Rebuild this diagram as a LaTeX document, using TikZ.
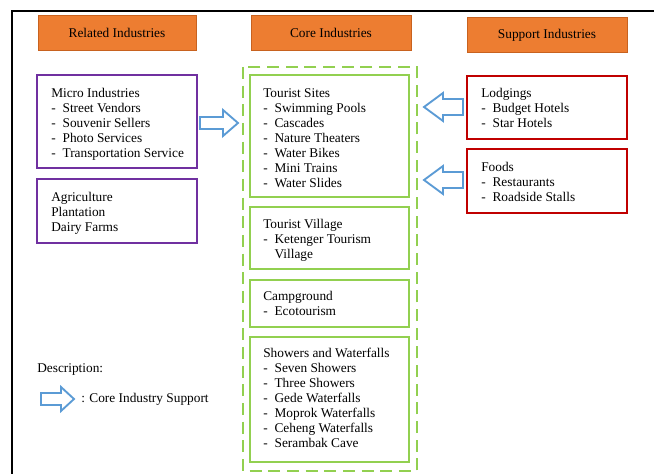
\documentclass[tikz,border=0pt]{standalone}
\usepackage{fontspec}
\setmainfont{Liberation Serif}
\definecolor{hdr}{HTML}{ED7D31}
\definecolor{hdrline}{HTML}{C8621F}
\definecolor{purp}{HTML}{7030A0}
\definecolor{grn}{HTML}{92D050}
\definecolor{redb}{HTML}{C00000}
\definecolor{arrb}{HTML}{5B9BD5}
\newcommand{\itm}[1]{\makebox[8.5pt][l]{-}#1}
\begin{document}
\begin{tikzpicture}[x=0.75pt,y=-0.75pt,
  hdrbox/.style={fill=hdr,draw=hdrline,line width=0.6pt},
  hdrtxt/.style={font=\fontsize{10}{11.25}\selectfont,inner sep=0pt},
  purpbox/.style={draw=purp,line width=1.5pt},
  grnbox/.style={draw=grn,line width=1.5pt},
  redbox/.style={draw=redb,line width=1.5pt},
  dashbox/.style={draw=grn,line width=1.5pt,dash pattern=on 9pt off 5pt},
  blockarrow/.style={draw=arrb,fill=white,line width=1.4pt,line join=miter},
  txt/.style={anchor=north west,inner sep=0pt,align=left,font=\fontsize{10}{11.25}\selectfont}]
\useasboundingbox (0,0) rectangle (654,474);
% frame
\draw[line width=0.9pt] (654,11) -- (12,11) -- (12,474);
% headers
\draw[hdrbox] (38,15) rectangle (196,50);
\node[hdrtxt] (hrel) at (117,33) {Related Industries};
\draw[hdrbox] (251,15) rectangle (411,50);
\node[hdrtxt] (hcore) at (331,33) {Core Industries};
\draw[hdrbox] (467,17) rectangle (627,52);
\node[hdrtxt] (hsup) at (547,35) {Support Industries};
% related
\draw[purpbox] (37,75) rectangle (197,168);
\node[txt] (micro) at (51,87) {\strut Micro Industries\\\itm{Street Vendors}\\\itm{Souvenir Sellers}\\\itm{Photo Services}\\\itm{Transportation Service}};
\draw[purpbox] (37,179) rectangle (197,243);
\node[txt] (agri) at (51,191) {\strut Agriculture\\Plantation\\Dairy Farms};
% core
\draw[dashbox] (243,67) rectangle (417,471);
\draw[grnbox] (250,75) rectangle (409,197);
\node[txt] (sites) at (263,87) {\strut Tourist Sites\\\itm{Swimming Pools}\\\itm{Cascades}\\\itm{Nature Theaters}\\\itm{Water Bikes}\\\itm{Mini Trains}\\\itm{Water Slides}};
\draw[grnbox] (250,207) rectangle (409,269);
\node[txt] (village) at (263,218) {\strut Tourist Village\\\itm{Ketenger Tourism}\\\hspace*{8.5pt}Village};
\draw[grnbox] (250,280) rectangle (409,327);
\node[txt] (camp) at (263,290) {\strut Campground\\\itm{Ecotourism}};
\draw[grnbox] (250,337) rectangle (409,462);
\node[txt] (showers) at (263,347) {\strut Showers and Waterfalls\\\itm{Seven Showers}\\\itm{Three Showers}\\\itm{Gede Waterfalls}\\\itm{Moprok Waterfalls}\\\itm{Ceheng Waterfalls}\\\itm{Serambak Cave}};
% support
\draw[redbox] (467,76) rectangle (627,139);
\node[txt] (lodg) at (481,87) {\strut Lodgings\\\itm{Budget Hotels}\\\itm{Star Hotels}};
\draw[redbox] (467,149) rectangle (627,213);
\node[txt] (food) at (481,161) {\strut Foods\\\itm{Restaurants}\\\itm{Roadside Stalls}};
% arrows
\draw[blockarrow] (200,117) -- (223,117) -- (223,110) -- (238,123) -- (223,136) -- (223,129) -- (200,129) -- cycle;
\draw[blockarrow] (463,99) -- (443,99) -- (443,93) -- (424,107) -- (443,121) -- (443,115) -- (463,115) -- cycle;
\draw[blockarrow] (463,172) -- (443,172) -- (443,166) -- (424,180) -- (443,194) -- (443,188) -- (463,188) -- cycle;
% legend
\node[txt] (desc) at (37,362) {\strut Description:};
\draw[blockarrow] (41,393) -- (61,393) -- (61,387) -- (74,399) -- (61,411) -- (61,405) -- (41,405) -- cycle;
\node[anchor=west,inner sep=0pt,font=\fontsize{10}{11.25}\selectfont] (legtxt) at (81,399) {: Core Industry Support};
\end{tikzpicture}
\end{document}
